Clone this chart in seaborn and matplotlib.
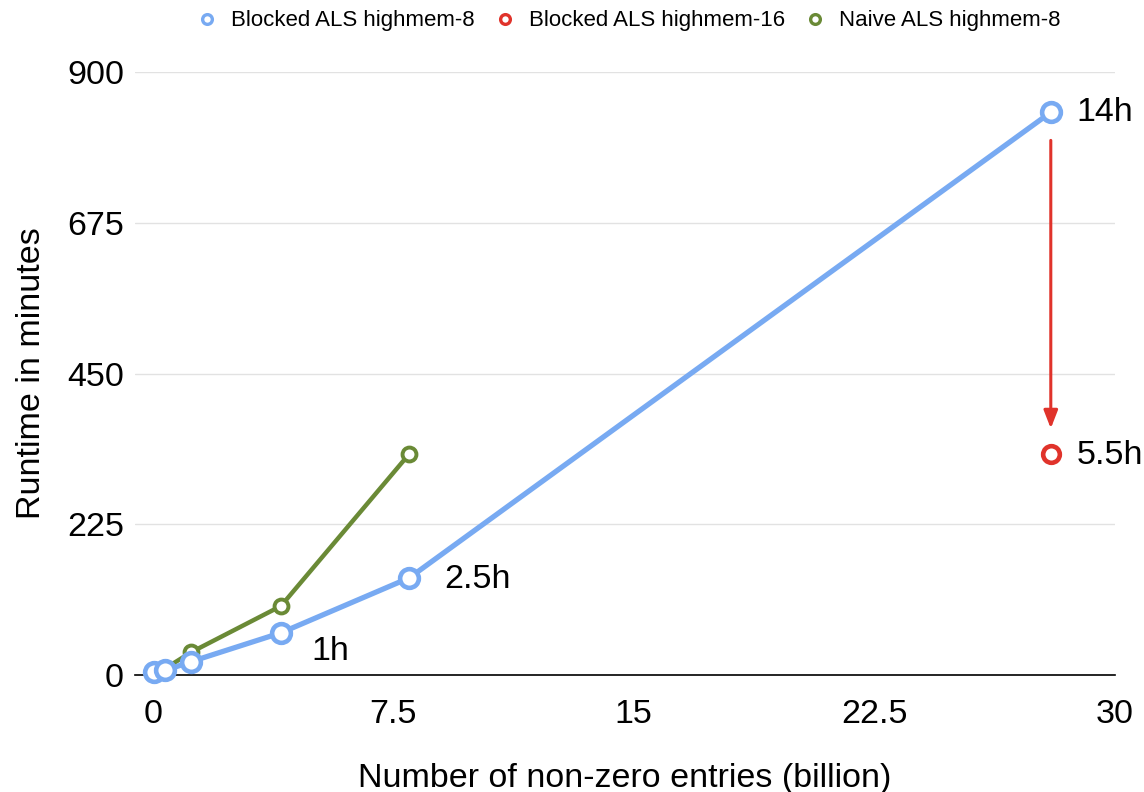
import matplotlib
matplotlib.use("Agg")
import matplotlib.pyplot as plt
from matplotlib.lines import Line2D
import seaborn as sns
import pandas as pd

blocked8_x = [0.05, 0.4, 1.2, 4.0, 8.0, 28.0]
blocked8_y = [5, 7, 20, 63, 145, 840]
blocked16_x = [28.0]
blocked16_y = [330]
naive8_x = [0.05, 0.4, 1.2, 4.0, 8.0]
naive8_y = [4, 10, 34, 103, 330]

series_names = ["Blocked ALS highmem-8", "Blocked ALS highmem-16", "Naive ALS highmem-8"]
colors = ["#78aaf2", "#e0332b", "#6a8a36"]

x_ticks = [0, 7.5, 15, 22.5, 30]
x_tick_labels = ["0", "7.5", "15", "22.5", "30"]
y_ticks = [0, 225, 450, 675, 900]

annotations = [(8.0, 145, "2.5h"), (4.0, 63, "1h"), (28.0, 840, "14h"), (28.0, 330, "5.5h")]

sns.set_theme(style="white")
plt.rcParams['font.family'] = ['Liberation Sans', 'DejaVu Sans']
plt.rcParams['text.color'] = 'black'
plt.rcParams['axes.labelcolor'] = 'black'

fig = plt.figure(figsize=(11.44, 7.92), dpi=100)
ax = fig.add_axes([0.118, 0.1477, 0.8566, 0.7613])

df_b8 = pd.DataFrame({"x": blocked8_x, "y": blocked8_y})
df_b16 = pd.DataFrame({"x": blocked16_x, "y": blocked16_y})
df_n8 = pd.DataFrame({"x": naive8_x, "y": naive8_y})

sns.lineplot(data=df_n8, x="x", y="y", ax=ax, color=colors[2], linewidth=3.2,
             marker="o", markersize=10, markerfacecolor="white",
             markeredgecolor=colors[2], markeredgewidth=2.8, zorder=3, clip_on=False)
sns.lineplot(data=df_b8, x="x", y="y", ax=ax, color=colors[0], linewidth=3.8,
             marker="o", markersize=13.5, markerfacecolor="white",
             markeredgecolor=colors[0], markeredgewidth=3.3, zorder=4, clip_on=False)
sns.lineplot(data=df_b16, x="x", y="y", ax=ax, color=colors[1], linewidth=3.8,
             marker="o", markersize=12, markerfacecolor="white",
             markeredgecolor=colors[1], markeredgewidth=3.3, zorder=4, clip_on=False)

# arrow from 14h to 5.5h
ax.annotate("", xy=(28.0, 368), xytext=(28.0, 798),
            arrowprops=dict(arrowstyle="-|>,head_length=0.9,head_width=0.35",
                            color=colors[1], lw=2.2, shrinkA=0, shrinkB=0))

offsets = {"2.5h": (1.1, -3), "1h": (0.95, -28), "14h": (0.8, 0), "5.5h": (0.8, -3)}
for x, y, t in annotations:
    dx, dy = offsets[t]
    ax.text(x + dx, y + dy, t, fontsize=24.5, color="black", va="center", ha="left")

ax.set_xlim(-0.55, 30)
ax.set_ylim(0, 900)
ax.set_xticks(x_ticks)
ax.set_xticklabels(x_tick_labels)
ax.set_yticks(y_ticks)
ax.tick_params(axis="both", labelsize=24.5, length=0, colors="black")
ax.tick_params(axis="x", pad=17)
ax.tick_params(axis="y", pad=8)
ax.yaxis.grid(True, color="#e2e2e2", linewidth=1)
ax.xaxis.grid(False)
for s in ["top", "right", "left"]:
    ax.spines[s].set_visible(False)
ax.spines["bottom"].set_color("black")
ax.spines["bottom"].set_linewidth(1.2)
ax.spines["bottom"].set_zorder(2)

ax.set_xlabel("Number of non-zero entries (billion)", fontsize=24.5, labelpad=24)
ax.set_ylabel("Runtime in minutes", fontsize=24.5, labelpad=14)

handles = [Line2D([], [], linestyle="none", marker="o", markersize=7,
                  markerfacecolor="white", markeredgecolor=c, markeredgewidth=2.4)
           for c in colors]
fig.legend(handles, series_names, loc="upper center", bbox_to_anchor=(0.549, 1.012),
           ncol=3, frameon=False, fontsize=16, handletextpad=0.58, columnspacing=0.85,
           handlelength=1.0)

fig.savefig("out.png", dpi=100)
